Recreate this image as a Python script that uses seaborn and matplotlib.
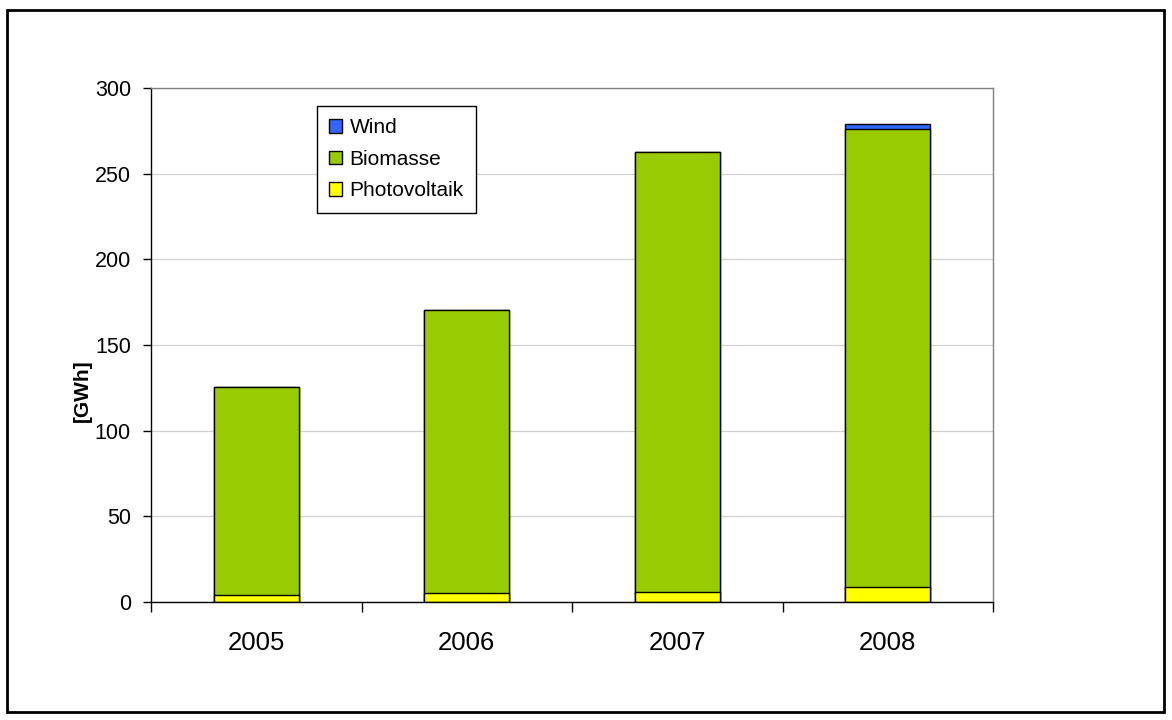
import matplotlib
matplotlib.use("Agg")
import matplotlib.pyplot as plt
from matplotlib.patches import Rectangle, Patch
import seaborn as sns
import pandas as pd
import numpy as np

# Electricity from renewable sources per year [GWh]
years = ["2005", "2006", "2007", "2008"]
photovoltaik = [4.3, 5.3, 6.0, 8.9]
biomasse = [121.2, 165.1, 256.7, 267.2]
wind = [0.0, 0.0, 0.0, 2.8]

series_names = ["Wind", "Biomasse", "Photovoltaik"]
colors = {"Wind": "#3366FF", "Biomasse": "#99CC00", "Photovoltaik": "#FFFF00"}

sns.set_theme(style="white")
plt.rcParams["font.family"] = ["Liberation Sans", "DejaVu Sans"]
plt.rcParams.update({"text.color": "black", "axes.labelcolor": "black",
                     "xtick.color": "black", "ytick.color": "black"})

df = pd.DataFrame({"Jahr": years, "Photovoltaik": photovoltaik,
                   "Biomasse": biomasse, "Wind": wind})
# cumulative heights for stacking (top of each segment)
df["top_pv"] = df["Photovoltaik"]
df["top_bio"] = df["top_pv"] + df["Biomasse"]
df["top_wind"] = df["top_bio"] + df["Wind"]

fig = plt.figure(figsize=(11.72, 7.2), dpi=100)
ax = fig.add_axes([151 / 1172, 118 / 720, 842 / 1172, 514 / 720])

# draw tallest segment first, then overlay the lower ones
for col, name in [("top_wind", "Wind"), ("top_bio", "Biomasse"), ("top_pv", "Photovoltaik")]:
    sns.barplot(data=df, x="Jahr", y=col, ax=ax, color=colors[name],
                saturation=1, width=0.405, edgecolor="black", linewidth=1.0,
                errorbar=None)

ax.set_ylim(0, 300)
ax.set_xlim(-0.5, 3.5)
ax.set_yticks(np.arange(0, 301, 50))
ax.yaxis.grid(True, color="#d0d0d0", linewidth=0.9)
ax.set_axisbelow(True)

ax.set_xlabel("")
ax.set_ylabel("[GWh]", fontsize=15, fontweight="bold")
ax.yaxis.set_label_coords(-0.070, 0.412)

ax.tick_params(axis="y", labelsize=15.5, length=6, width=1, direction="out",
               left=True, pad=8.5, color="black")
ax.tick_params(axis="x", labelsize=18.5, length=0, pad=21)
# category separator ticks on the x axis
ax.set_xticks(np.arange(-0.5, 4.0, 1.0), minor=True)
ax.tick_params(axis="x", which="minor", length=7, width=1, direction="out",
               bottom=True, color="black")

for side in ["top", "right"]:
    ax.spines[side].set_color("#808080")
    ax.spines[side].set_linewidth(1.0)
for side in ["left", "bottom"]:
    ax.spines[side].set_color("black")
    ax.spines[side].set_linewidth(1.0)

handles = [Patch(facecolor=colors[n], edgecolor="black", linewidth=1.0) for n in series_names]
leg = ax.legend(handles, series_names, loc="upper left",
                bbox_to_anchor=(0.197, 0.965), fontsize=15, frameon=True,
                fancybox=False, edgecolor="black", framealpha=1,
                handlelength=0.62, handleheight=0.62, handletextpad=0.35,
                labelspacing=0.6, borderpad=0.6, borderaxespad=0)
leg.get_frame().set_linewidth(1.0)

# outer chart border
fig.patches.append(Rectangle((7 / 1172, 8 / 720), 1157 / 1172, 702 / 720,
                             transform=fig.transFigure, fill=False,
                             edgecolor="black", linewidth=2.0))

fig.savefig("out.png", dpi=100, facecolor="white")
